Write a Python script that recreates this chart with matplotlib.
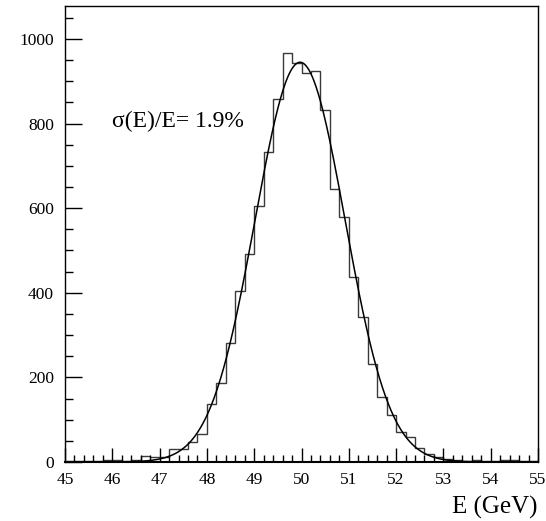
import numpy as np
import matplotlib
matplotlib.use("Agg")
import matplotlib.pyplot as plt
from matplotlib.ticker import MultipleLocator

# Histogram data: 50 bins of 0.2 GeV from 45 to 55
bin_edges = np.round(np.arange(45.0, 55.0001, 0.2), 2)
counts = [
    3, 2, 2, 3, 5, 5, 3, 4, 14, 11,      # 45.0 - 47.0
    12, 30, 30, 48, 67, 137, 187, 282, 405, 492,   # 47.0 - 49.0
    605, 734, 858, 968, 943, 919, 924, 833, 645, 580,  # 49.0 - 51.0
    438, 342, 232, 154, 111, 72, 60, 33, 20, 13,  # 51.0 - 53.0
    6, 4, 3, 4, 2, 3, 5, 4, 2, 3,          # 53.0 - 55.0
]

# Gaussian fit parameters
fit_amplitude = 945.0
fit_mean = 49.97
fit_sigma = 0.95

annotation = "σ(E)/E= 1.9%"
xlabel = "E (GeV)"

plt.rcParams['font.family'] = ['Liberation Serif', 'DejaVu Serif']

fig = plt.figure(figsize=(5.46, 5.21), dpi=100)
ax = fig.add_axes([65/546, 59/521, (538-65)/546, (462-6)/521])

ax.stairs(counts, bin_edges, color='#3a3a3a', lw=1.0)

xf = np.linspace(45, 55, 600)
yf = fit_amplitude * np.exp(-0.5 * ((xf - fit_mean) / fit_sigma) ** 2)
ax.plot(xf, yf, color='black', lw=1.1)

ax.set_xlim(45, 55)
ax.set_ylim(0, 1078)

ax.xaxis.set_major_locator(MultipleLocator(1))
ax.xaxis.set_minor_locator(MultipleLocator(0.2))
ax.yaxis.set_major_locator(MultipleLocator(200))
ax.yaxis.set_minor_locator(MultipleLocator(50))

ax.tick_params(axis='both', which='both', direction='in', top=False, right=False,
               labelsize=12.5, width=1)
ax.tick_params(axis='x', which='major', length=10, pad=7)
ax.tick_params(axis='x', which='minor', length=5)
ax.tick_params(axis='y', which='major', length=12, pad=8)
ax.tick_params(axis='y', which='minor', length=6)

for s in ax.spines.values():
    s.set_linewidth(1.0)
ax.spines['bottom'].set_linewidth(1.5)

ax.text(46.0, 804, annotation, fontsize=17, va='center', ha='left')

ax.set_xlabel(xlabel, fontsize=18, loc='right', labelpad=6)

fig.savefig("out.png", dpi=100)
